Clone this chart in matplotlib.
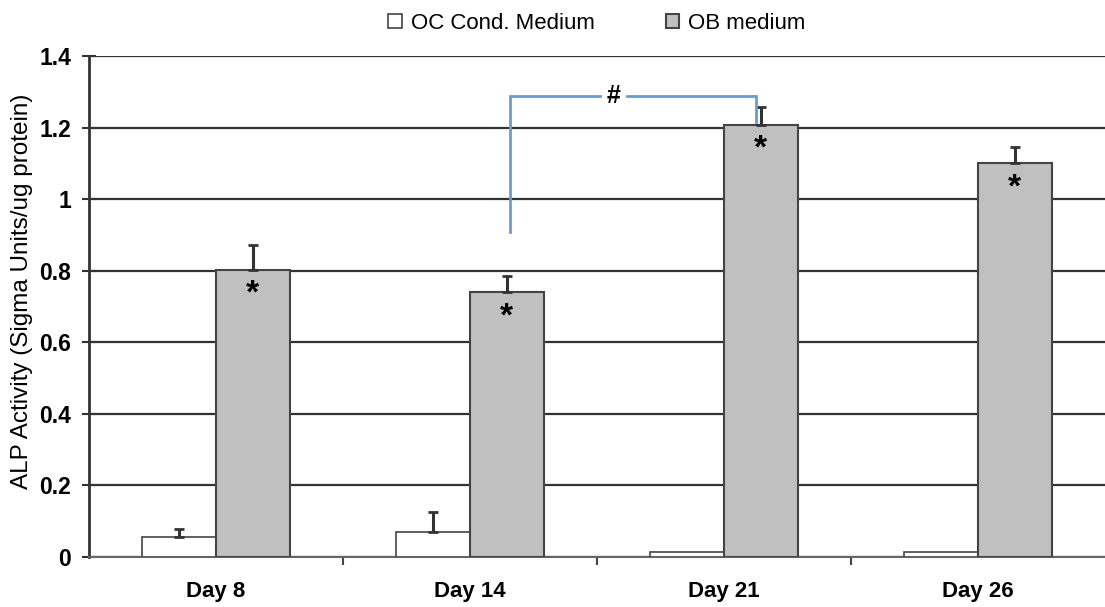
import numpy as np
import matplotlib.pyplot as plt

plt.rcParams['font.family'] = ['Liberation Sans', 'DejaVu Sans']

# ALP activity per day, two culture media
days = ['Day 8', 'Day 14', 'Day 21', 'Day 26']
oc_cond = [0.056, 0.07, 0.014, 0.014]
oc_err = [0.022, 0.056, 0.0, 0.0]
ob_medium = [0.802, 0.74, 1.207, 1.10]
ob_err = [0.07, 0.045, 0.05, 0.046]

fig = plt.figure(figsize=(11.05, 6.07), dpi=100)
ax = fig.add_axes([0.0805, 0.0824, 0.9195, 0.8253])

x = np.arange(len(days))
w = 0.29

ax.bar(x - w / 2, oc_cond, w, color='white', edgecolor='#444444', linewidth=1.2,
       label='OC Cond. Medium', zorder=3)
ax.bar(x + w / 2, ob_medium, w, color='#c0c0c0', edgecolor='#444444', linewidth=1.5,
       label='OB medium', zorder=3)

# one-sided error bars (skip zero-size ones)
has_err = np.array(oc_err) > 0
ax.errorbar((x - w / 2)[has_err], np.array(oc_cond)[has_err],
            yerr=[np.zeros(has_err.sum()), np.array(oc_err)[has_err]], fmt='none',
            ecolor='#333333', elinewidth=2.2, capsize=3.5, capthick=2, zorder=4)
ax.errorbar(x + w / 2, ob_medium, yerr=[np.zeros(4), ob_err], fmt='none',
            ecolor='#333333', elinewidth=2.2, capsize=3.5, capthick=2, zorder=4)

# significance stars
for xi, v in zip(x, ob_medium):
    ax.text(xi + w / 2, v - 0.025, '*', ha='center', va='top', fontsize=24,
            fontweight='bold', zorder=5)

# Day 14 vs Day 21 bracket
bx0, bx1 = 1.157, 2.126
ax.plot([bx0, bx0, 1.51], [0.908, 1.288, 1.288], color='#6b9bd1', lw=2, zorder=5,
        solid_joinstyle='miter')
ax.plot([1.62, bx1, bx1], [1.288, 1.288, 1.215], color='#6b9bd1', lw=2, zorder=5,
        solid_joinstyle='miter')
ax.text(1.565, 1.288, '#', ha='center', va='center', fontsize=18, fontweight='bold')

ax.set_xlim(-0.5, 3.5)
ax.set_ylim(0, 1.4)
ax.set_yticks([0, 0.2, 0.4, 0.6, 0.8, 1.0, 1.2, 1.4])
ax.set_yticklabels(['0', '0.2', '0.4', '0.6', '0.8', '1', '1.2', '1.4'],
                   fontsize=16.5, fontweight='bold')
ax.yaxis.grid(True, color='#333333', linewidth=1.6, zorder=0)
ax.set_axisbelow(True)

ax.set_xticks(x)
ax.set_xticklabels(days, fontsize=16, fontweight='bold')
ax.set_xticks([0.5, 1.5, 2.5], minor=True)
ax.tick_params(axis='x', which='major', length=0, pad=17)
ax.tick_params(axis='x', which='minor', length=6, width=1.5, color='#444444')
ax.tick_params(axis='y', direction='inout', length=10, width=1.5, color='#333333', pad=8)

ax.set_ylabel('ALP Activity (Sigma Units/ug protein)', fontsize=17.5)
ax.yaxis.set_label_coords(-0.055, 0.53)

for s in ['top', 'right']:
    ax.spines[s].set_visible(False)
ax.spines['left'].set_color('#333333')
ax.spines['left'].set_linewidth(2)
ax.spines['bottom'].set_color('#666666')
ax.spines['bottom'].set_linewidth(1.5)

fig.legend(loc='upper center', bbox_to_anchor=(0.54, 1.012), ncol=2, frameon=False,
           fontsize=16, handlelength=0.6, handleheight=0.6, columnspacing=3.2,
           handletextpad=0.4)

fig.savefig('out.png', dpi=100)
